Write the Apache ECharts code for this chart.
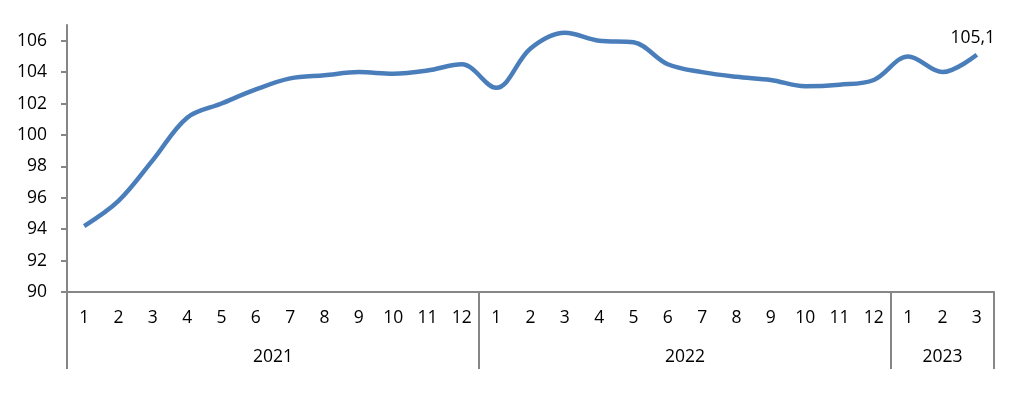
<!DOCTYPE html>
<html>
<head>
<meta charset="utf-8">
<script src="https://cdn.jsdelivr.net/npm/echarts@6/dist/echarts.min.js"></script>
<style>
  html, body { margin: 0; padding: 0; background: #fff; }
  #chart { width: 1030px; height: 402px; }
</style>
</head>
<body>
<div id="chart"></div>
<script>
// data
var years = ['2021', '2022', '2023'];
var monthsPerYear = [12, 12, 3];
var months = ['1', '2', '3', '4', '5', '6', '7', '8', '9', '10', '11', '12',
              '1', '2', '3', '4', '5', '6', '7', '8', '9', '10', '11', '12',
              '1', '2', '3'];
var values = [94.2, 95.8, 98.4, 101.1, 102.0, 102.9, 103.6, 103.8, 104.0, 103.9, 104.1, 104.5,
              103.0, 105.5, 106.5, 106.0, 105.9, 104.5, 104.0, 103.7, 103.5, 103.1, 103.2, 103.5,
              105.0, 104.0, 105.1];
var yTicks = [90, 92, 94, 96, 98, 100, 102, 104, 106];

// year axis: half-month slots, ticks on year edges, labels in the middle of each year
var halfSlots = [];
var yearEdges = [0];
var yearMiddles = [];
var pos = 0;
for (var i = 0; i < years.length; i++) {
    yearMiddles.push(pos + monthsPerYear[i]);
    pos += monthsPerYear[i] * 2;
    yearEdges.push(pos);
}
for (var k = 0; k <= pos; k++) {
    var idx = yearMiddles.indexOf(k);
    halfSlots.push(idx >= 0 ? years[idx] : '');
}

var axisGrey = '#868686';
var font = '"Open Sans", "Liberation Sans", sans-serif';
var lastIndex = values.length - 1;

var chart = echarts.init(document.getElementById('chart'));
chart.setOption({
    animation: false,
    grid: { left: 67, right: 36, top: 25, bottom: 110 },
    xAxis: [{
        type: 'category',
        data: months,
        boundaryGap: true,
        axisLine: { lineStyle: { color: axisGrey, width: 2 } },
        axisTick: { interval: 0, length: 38, lineStyle: { color: axisGrey, width: 2 } },
        axisLabel: { interval: 0, margin: 16, color: '#000', fontSize: 17.5, fontFamily: font, lineHeight: 20 }
    }, {
        type: 'category',
        data: halfSlots,
        boundaryGap: false,
        position: 'bottom',
        axisLine: { show: false },
        axisTick: {
            length: 77,
            interval: function (index) { return yearEdges.indexOf(index) >= 0; },
            lineStyle: { color: axisGrey, width: 2 }
        },
        axisLabel: {
            margin: 55,
            interval: function (index) { return yearMiddles.indexOf(index) >= 0; },
            color: '#000', fontSize: 17.5, fontFamily: font, lineHeight: 20
        }
    }],
    yAxis: {
        type: 'value',
        min: 90,
        max: 107,
        interval: 2,
        splitLine: { show: false },
        axisLine: { show: true, lineStyle: { color: axisGrey, width: 2 } },
        axisTick: { show: true, length: 6, customValues: yTicks, lineStyle: { color: axisGrey, width: 2 } },
        axisLabel: { margin: 20, customValues: yTicks, color: '#000', fontSize: 17.5, fontFamily: font }
    },
    series: [{
        type: 'line',
        xAxisIndex: 0,
        data: values,
        smooth: 0.35,
        symbol: 'circle',
        symbolSize: 0,
        showSymbol: true,
        lineStyle: { color: '#4a7ebb', width: 4.5 },
        itemStyle: { color: '#4a7ebb' },
        label: {
            show: true,
            position: 'top',
            distance: 8,
            offset: [-4, 0],
            color: '#000',
            fontSize: 17.5,
            fontFamily: font,
            formatter: function (p) {
                return p.dataIndex === lastIndex ? String(p.value).replace('.', ',') : '';
            }
        }
    }]
});
</script>
</body>
</html>
